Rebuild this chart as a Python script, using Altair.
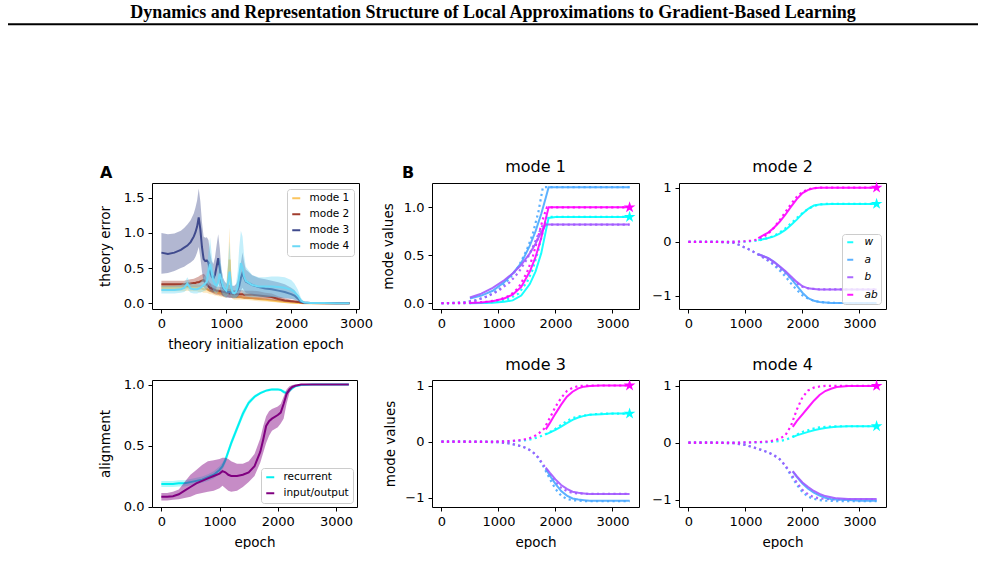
import altair as alt
import pandas as pd

HEADER = "Dynamics and Representation Structure of Local Approximations to Gradient-Based Learning"

# ---------------- Panel A (top): theory error ----------------
ERR_EPOCH = [0, 100, 200, 300, 350, 400, 450, 500, 525, 550,
             575, 600, 625, 650, 675, 700, 725, 750, 775, 800,
             825, 850, 875, 900, 925, 950, 975, 1000, 1025, 1050,
             1075, 1100, 1125, 1150, 1175, 1200, 1225, 1250, 1275, 1300,
             1400, 1500, 1600, 1700, 1800, 1900, 2000, 2050, 2100, 2150,
             2200, 2300, 2500, 2700, 2900]
MODE_NAMES = ["mode 1", "mode 2", "mode 3", "mode 4"]
MODE_COLORS = ["#fbc55e", "#a13d2d", "#3f4a8d", "#6bd8f6"]

ERR1_MEAN = [0.22, 0.22, 0.22, 0.22, 0.22, 0.23, 0.22, 0.22, 0.22, 0.22,
             0.21, 0.21, 0.21, 0.20, 0.20, 0.20, 0.19, 0.18, 0.18, 0.17,
             0.16, 0.16, 0.15, 0.15, 0.14, 0.14, 0.13, 0.13, 0.30, 0.62,
             0.18, 0.10, 0.09, 0.09, 0.09, 0.09, 0.09, 0.08, 0.08, 0.08,
             0.07, 0.06, 0.05, 0.04, 0.03, 0.02, 0.012, 0.008, 0.005, 0.003,
             0.002, 0.002, 0.002, 0.002, 0.002]
ERR1_LO = [0.17, 0.17, 0.17, 0.17, 0.17, 0.18, 0.17, 0.17, 0.17, 0.17,
           0.16, 0.16, 0.16, 0.15, 0.15, 0.15, 0.14, 0.13, 0.13, 0.12,
           0.11, 0.11, 0.10, 0.10, 0.09, 0.09, 0.08, 0.08, 0.12, 0.18,
           0.09, 0.06, 0.05, 0.05, 0.05, 0.05, 0.05, 0.05, 0.05, 0.05,
           0.04, 0.03, 0.025, 0.02, 0.01, 0.005, 0.0, 0.0, 0.0, 0.0,
           0.0, 0.0, 0.0, 0.0, 0.0]
ERR1_HI = [0.27, 0.27, 0.27, 0.27, 0.27, 0.29, 0.27, 0.27, 0.27, 0.27,
           0.26, 0.26, 0.26, 0.25, 0.25, 0.25, 0.24, 0.23, 0.23, 0.22,
           0.21, 0.21, 0.20, 0.20, 0.19, 0.19, 0.18, 0.19, 0.55, 1.08,
           0.35, 0.14, 0.13, 0.13, 0.13, 0.13, 0.13, 0.12, 0.12, 0.12,
           0.11, 0.09, 0.08, 0.06, 0.05, 0.035, 0.025, 0.016, 0.01, 0.006,
           0.004, 0.004, 0.004, 0.004, 0.004]

ERR2_MEAN = [0.27, 0.27, 0.27, 0.27, 0.27, 0.28, 0.28, 0.29, 0.29, 0.30,
             0.30, 0.31, 0.32, 0.33, 0.30, 0.27, 0.24, 0.22, 0.21, 0.20,
             0.19, 0.18, 0.18, 0.17, 0.17, 0.16, 0.16, 0.15, 0.15, 0.14,
             0.14, 0.13, 0.13, 0.13, 0.13, 0.13, 0.13, 0.13, 0.12, 0.12,
             0.12, 0.11, 0.10, 0.09, 0.06, 0.04, 0.03, 0.025, 0.02, 0.01,
             0.005, 0.003, 0.002, 0.002, 0.002]
ERR2_LO = [0.23, 0.23, 0.23, 0.23, 0.23, 0.23, 0.23, 0.23, 0.23, 0.23,
           0.23, 0.23, 0.23, 0.23, 0.21, 0.19, 0.17, 0.16, 0.15, 0.14,
           0.13, 0.12, 0.12, 0.11, 0.11, 0.10, 0.10, 0.09, 0.09, 0.08,
           0.08, 0.07, 0.07, 0.07, 0.07, 0.07, 0.07, 0.07, 0.06, 0.06,
           0.06, 0.05, 0.05, 0.04, 0.03, 0.02, 0.01, 0.01, 0.005, 0.0,
           0.0, 0.0, 0.0, 0.0, 0.0]
ERR2_HI = [0.32, 0.32, 0.32, 0.32, 0.32, 0.33, 0.34, 0.35, 0.36, 0.37,
           0.38, 0.40, 0.41, 0.42, 0.40, 0.36, 0.32, 0.29, 0.27, 0.26,
           0.25, 0.24, 0.24, 0.23, 0.23, 0.22, 0.22, 0.21, 0.21, 0.20,
           0.20, 0.19, 0.19, 0.19, 0.19, 0.19, 0.19, 0.19, 0.18, 0.18,
           0.18, 0.17, 0.15, 0.14, 0.10, 0.07, 0.05, 0.04, 0.035, 0.02,
           0.01, 0.006, 0.004, 0.004, 0.004]

ERR3_MEAN = [0.72, 0.70, 0.72, 0.76, 0.79, 0.82, 0.87, 0.95, 1.01, 1.09,
             1.22, 1.05, 0.80, 0.63, 0.60, 0.61, 0.58, 0.45, 0.38, 0.35,
             0.40, 0.52, 0.64, 0.50, 0.30, 0.22, 0.19, 0.17, 0.16, 0.16,
             0.15, 0.15, 0.15, 0.16, 0.19, 0.25, 0.36, 0.43, 0.36, 0.31,
             0.26, 0.23, 0.21, 0.20, 0.18, 0.16, 0.13, 0.11, 0.07, 0.02,
             0.01, 0.005, 0.003, 0.002, 0.002]
ERR3_LO = [0.42, 0.43, 0.46, 0.50, 0.52, 0.55, 0.58, 0.62, 0.66, 0.72,
           0.80, 0.65, 0.45, 0.30, 0.25, 0.25, 0.22, 0.18, 0.16, 0.15,
           0.17, 0.22, 0.30, 0.22, 0.13, 0.10, 0.09, 0.08, 0.08, 0.08,
           0.08, 0.08, 0.08, 0.08, 0.09, 0.12, 0.18, 0.22, 0.18, 0.15,
           0.12, 0.10, 0.09, 0.09, 0.08, 0.07, 0.06, 0.05, 0.03, 0.01,
           0.0, 0.0, 0.0, 0.0, 0.0]
ERR3_HI = [1.00, 0.98, 0.99, 1.03, 1.07, 1.12, 1.18, 1.28, 1.36, 1.46,
           1.63, 1.45, 1.15, 0.95, 0.93, 0.94, 0.90, 0.72, 0.60, 0.56,
           0.65, 0.82, 0.98, 0.78, 0.48, 0.36, 0.31, 0.28, 0.27, 0.26,
           0.25, 0.25, 0.25, 0.27, 0.32, 0.42, 0.58, 0.72, 0.58, 0.48,
           0.40, 0.36, 0.34, 0.32, 0.30, 0.27, 0.22, 0.19, 0.12, 0.04,
           0.02, 0.01, 0.006, 0.004, 0.004]

ERR4_MEAN = [0.19, 0.19, 0.19, 0.20, 0.22, 0.28, 0.21, 0.20, 0.20, 0.20,
             0.21, 0.22, 0.24, 0.26, 0.28, 0.31, 0.45, 0.56, 0.44, 0.32,
             0.27, 0.25, 0.30, 0.42, 0.33, 0.24, 0.20, 0.18, 0.28, 0.45,
             0.22, 0.15, 0.14, 0.16, 0.23, 0.40, 0.57, 0.50, 0.38, 0.32,
             0.26, 0.24, 0.24, 0.24, 0.23, 0.22, 0.19, 0.16, 0.11, 0.04,
             0.01, 0.005, 0.003, 0.002, 0.002]
ERR4_LO = [0.14, 0.14, 0.14, 0.15, 0.16, 0.20, 0.15, 0.14, 0.14, 0.14,
           0.15, 0.15, 0.16, 0.17, 0.18, 0.20, 0.26, 0.30, 0.24, 0.18,
           0.15, 0.14, 0.16, 0.22, 0.17, 0.12, 0.10, 0.09, 0.12, 0.15,
           0.10, 0.08, 0.07, 0.08, 0.10, 0.14, 0.18, 0.15, 0.12, 0.10,
           0.09, 0.09, 0.09, 0.09, 0.09, 0.08, 0.07, 0.06, 0.04, 0.01,
           0.0, 0.0, 0.0, 0.0, 0.0]
ERR4_HI = [0.25, 0.25, 0.25, 0.26, 0.29, 0.37, 0.28, 0.27, 0.27, 0.27,
           0.28, 0.30, 0.33, 0.36, 0.40, 0.45, 0.72, 0.93, 0.70, 0.48,
           0.40, 0.38, 0.48, 0.66, 0.50, 0.36, 0.31, 0.28, 0.55, 0.88,
           0.40, 0.25, 0.23, 0.28, 0.45, 0.80, 1.03, 0.95, 0.68, 0.52,
           0.40, 0.37, 0.37, 0.38, 0.38, 0.37, 0.33, 0.28, 0.20, 0.08,
           0.02, 0.01, 0.006, 0.004, 0.004]

# ---------------- Panel A (bottom): alignment ----------------
ALIGN_EPOCH = [0, 100, 200, 300, 400, 500, 600, 700, 800, 900,
               1000, 1050, 1100, 1150, 1200, 1300, 1400, 1500, 1600, 1700,
               1750, 1800, 1850, 1900, 2000, 2050, 2100, 2150, 2200, 2250,
               2300, 2400, 2600, 2800, 3000, 3220]
ALIGN_NAMES = ["recurrent", "input/output"]
ALIGN_COLORS = ["#00f0f0", "#800080"]
REC_MEAN = [0.185, 0.185, 0.185, 0.19, 0.19, 0.2, 0.21, 0.22, 0.24, 0.26,
            0.3, 0.33, 0.38, 0.45, 0.52, 0.64, 0.76, 0.85, 0.9, 0.93,
            0.94, 0.95, 0.955, 0.96, 0.96, 0.955, 0.94, 0.93, 0.95, 0.97,
            0.985, 0.995, 1.0, 1.0, 1.0, 1.0]
REC_LO = [0.16, 0.16, 0.16, 0.165, 0.165, 0.175, 0.185, 0.195, 0.21, 0.23,
          0.27, 0.3, 0.35, 0.42, 0.49, 0.61, 0.73, 0.83, 0.885, 0.92,
          0.93, 0.94, 0.945, 0.95, 0.95, 0.945, 0.925, 0.915, 0.94, 0.96,
          0.98, 0.99, 0.998, 0.998, 0.998, 0.998]
REC_HI = [0.21, 0.21, 0.21, 0.215, 0.215, 0.225, 0.235, 0.245, 0.265, 0.29,
          0.33, 0.36, 0.41, 0.48, 0.55, 0.67, 0.79, 0.87, 0.915, 0.94,
          0.95, 0.96, 0.965, 0.97, 0.97, 0.965, 0.955, 0.945, 0.96, 0.98,
          0.99, 1.0, 1.0, 1.0, 1.0, 1.0]
IO_MEAN = [0.08, 0.08, 0.085, 0.1, 0.13, 0.16, 0.19, 0.21, 0.23, 0.25,
           0.27, 0.29, 0.28, 0.26, 0.25, 0.25, 0.26, 0.28, 0.33, 0.45,
           0.55, 0.66, 0.7, 0.72, 0.75, 0.77, 0.84, 0.92, 0.96, 0.98,
           0.99, 1.0, 1.0, 1.0, 1.0, 1.0]
IO_LO = [0.05, 0.05, 0.055, 0.06, 0.07, 0.08, 0.1, 0.11, 0.12, 0.13,
         0.15, 0.17, 0.15, 0.13, 0.12, 0.13, 0.16, 0.2, 0.25, 0.36,
         0.44, 0.52, 0.58, 0.62, 0.65, 0.68, 0.72, 0.84, 0.93, 0.97,
         0.985, 0.995, 1.0, 1.0, 1.0, 1.0]
IO_HI = [0.11, 0.11, 0.12, 0.14, 0.2, 0.26, 0.3, 0.34, 0.37, 0.38,
         0.39, 0.4, 0.4, 0.39, 0.37, 0.35, 0.35, 0.37, 0.43, 0.56,
         0.66, 0.74, 0.78, 0.8, 0.82, 0.84, 0.9, 0.96, 0.985, 0.995,
         1.0, 1.0, 1.0, 1.0, 1.0, 1.0]

# ---------------- Panel B: mode values ----------------
VAR_NAMES = ["w", "a", "b", "ab"]
VAR_COLORS = ["#00ffff", "#4aa8ff", "#a259ff", "#ff00ff"]
STAR_EPOCH = 3300

M1_DOT_EPOCH = [0, 200, 400, 600, 800, 1000, 1200, 1350, 1500, 1600, 1700, 1780, 1850, 1900, 2000, 3300]
M1_DOT_W = [0.0, 0.0, 0.0, 0.003, 0.008, 0.02, 0.05, 0.1, 0.22, 0.35, 0.55, 0.75, 0.9, 0.9, 0.9, 0.9]
M1_DOT_A = [0.0, 0.003, 0.01, 0.03, 0.07, 0.14, 0.26, 0.38, 0.56, 0.72, 0.95, 1.21, 1.21, 1.21, 1.21, 1.21]
M1_DOT_B = [0.0, 0.003, 0.01, 0.03, 0.07, 0.13, 0.22, 0.32, 0.46, 0.58, 0.72, 0.82, 0.82, 0.82, 0.82, 0.82]
M1_DOT_AB = [0.0, 0.0, 0.002, 0.006, 0.015, 0.035, 0.08, 0.16, 0.32, 0.48, 0.7, 0.88, 1.0, 1.0, 1.0, 1.0]
M1_SOL_EPOCH = [500, 700, 900, 1100, 1250, 1400, 1550, 1650, 1750, 1830, 1880, 2000, 3300]
M1_SOL_W = [0.0, 0.002, 0.006, 0.015, 0.03, 0.08, 0.2, 0.33, 0.52, 0.75, 0.89, 0.9, 0.9]
M1_SOL_A = [0.05, 0.08, 0.13, 0.22, 0.31, 0.42, 0.6, 0.75, 0.93, 1.1, 1.21, 1.21, 1.21]
M1_SOL_B = [0.06, 0.1, 0.16, 0.24, 0.31, 0.4, 0.52, 0.62, 0.74, 0.82, 0.82, 0.82, 0.82]
M1_SOL_AB = [0.003, 0.008, 0.02, 0.05, 0.09, 0.17, 0.33, 0.48, 0.68, 0.88, 1.0, 1.0, 1.0]
M1_STAR = [0.9, 1.0]

M2_DOT_EPOCH = [0, 200, 400, 600, 800, 900, 1000, 1100, 1200, 1300, 1400, 1500, 1600, 1700, 1800,
                1900, 2000, 2100, 2200, 2300, 2400, 2600, 3300]
M2_DOT_W = [0, 0, 0, 0, 0.001, 0.003, 0.005, 0.01, 0.02, 0.04, 0.07, 0.11, 0.17, 0.25, 0.34,
            0.44, 0.53, 0.61, 0.66, 0.69, 0.7, 0.7, 0.7]
M2_DOT_A = [0, 0, 0, -0.005, -0.02, -0.06, -0.11, -0.16, -0.22, -0.28, -0.35, -0.43, -0.53, -0.64, -0.77,
            -0.89, -0.99, -1.05, -1.09, -1.11, -1.12, -1.13, -1.13]
M2_DOT_B = [0, 0, 0, -0.005, -0.02, -0.06, -0.11, -0.16, -0.22, -0.28, -0.34, -0.41, -0.49, -0.58, -0.68,
            -0.77, -0.83, -0.86, -0.87, -0.88, -0.88, -0.88, -0.88]
M2_DOT_AB = [0, 0, 0, 0, 0.002, 0.005, 0.01, 0.02, 0.04, 0.08, 0.15, 0.26, 0.4, 0.55, 0.7,
             0.83, 0.92, 0.97, 0.99, 1.0, 1.0, 1.0, 1.0]
M2_SOL_EPOCH = [1225, 1400, 1500, 1600, 1700, 1800, 1900, 2000, 2100, 2200, 2300, 2500, 3300]
M2_SOL_W = [0.03, 0.07, 0.1, 0.15, 0.22, 0.31, 0.41, 0.52, 0.61, 0.67, 0.69, 0.7, 0.7]
M2_SOL_A = [-0.23, -0.3, -0.37, -0.46, -0.56, -0.68, -0.81, -0.94, -1.04, -1.09, -1.11, -1.13, -1.13]
M2_SOL_B = [-0.23, -0.3, -0.37, -0.45, -0.54, -0.64, -0.74, -0.82, -0.86, -0.87, -0.88, -0.88, -0.88]
M2_SOL_AB = [0.07, 0.17, 0.26, 0.37, 0.5, 0.65, 0.79, 0.9, 0.96, 0.99, 1.0, 1.0, 1.0]
M2_STAR = [0.7, 1.0]

M3_DOT_EPOCH = [0, 400, 800, 1000, 1200, 1400, 1500, 1600, 1700, 1800, 1900, 2000, 2100, 2200, 2300,
                2400, 2600, 2800, 3300]
M3_DOT_W = [0, 0, 0, 0.003, 0.007, 0.02, 0.03, 0.05, 0.08, 0.12, 0.17, 0.23, 0.3, 0.37, 0.42,
            0.45, 0.48, 0.5, 0.5]
M3_DOT_A = [0, 0, -0.005, -0.01, -0.03, -0.08, -0.12, -0.18, -0.29, -0.46, -0.66, -0.84, -0.96, -1.02, -1.04,
            -1.05, -1.06, -1.06, -1.06]
M3_DOT_B = [0, 0, -0.005, -0.01, -0.03, -0.08, -0.12, -0.18, -0.28, -0.43, -0.58, -0.72, -0.82, -0.88, -0.91,
            -0.92, -0.93, -0.93, -0.93]
M3_DOT_AB = [0, 0, 0, 0.005, 0.01, 0.03, 0.05, 0.08, 0.14, 0.23, 0.42, 0.62, 0.78, 0.9, 0.96,
             0.99, 1.0, 1.0, 1.0]
M3_SOL_EPOCH = [1830, 1900, 2000, 2100, 2200, 2300, 2400, 2500, 2600, 2800, 3000, 3300]
M3_SOL_W = [0.13, 0.16, 0.21, 0.27, 0.33, 0.39, 0.43, 0.46, 0.48, 0.49, 0.5, 0.5]
M3_SOL_A = [-0.48, -0.6, -0.75, -0.88, -0.96, -1.01, -1.03, -1.04, -1.05, -1.05, -1.05, -1.05]
M3_SOL_B = [-0.46, -0.55, -0.67, -0.77, -0.84, -0.89, -0.91, -0.92, -0.93, -0.93, -0.93, -0.93]
M3_SOL_AB = [0.22, 0.33, 0.5, 0.66, 0.8, 0.89, 0.95, 0.98, 0.99, 1.0, 1.0, 1.0]
M3_STAR = [0.5, 1.0]

M4_DOT_EPOCH = [0, 400, 800, 1000, 1200, 1400, 1500, 1600, 1700, 1800, 1900, 2000, 2100, 2200, 2300,
                2400, 2600, 2800, 3300]
M4_DOT_W = [0, 0, 0, 0.002, 0.005, 0.01, 0.02, 0.03, 0.05, 0.09, 0.14, 0.19, 0.22, 0.25, 0.27,
            0.28, 0.29, 0.29, 0.29]
M4_DOT_A = [0, 0, -0.01, -0.04, -0.1, -0.17, -0.22, -0.29, -0.41, -0.58, -0.74, -0.87, -0.95, -0.99, -1.01,
            -1.02, -1.03, -1.03, -1.03]
M4_DOT_B = [0, 0, -0.01, -0.04, -0.1, -0.17, -0.22, -0.29, -0.4, -0.55, -0.7, -0.83, -0.91, -0.96, -0.98,
            -0.99, -1.0, -1.0, -1.0]
M4_DOT_AB = [0, 0, 0, 0.005, 0.01, 0.02, 0.04, 0.07, 0.13, 0.3, 0.58, 0.8, 0.92, 0.97, 0.99,
             1.0, 1.0, 1.0, 1.0]
M4_SOL_EPOCH = [1830, 1900, 2000, 2100, 2200, 2300, 2400, 2500, 2600, 2800, 3000, 3300]
M4_SOL_W = [0.1, 0.13, 0.16, 0.19, 0.22, 0.24, 0.26, 0.27, 0.28, 0.29, 0.29, 0.29]
M4_SOL_A = [-0.51, -0.6, -0.72, -0.81, -0.88, -0.93, -0.97, -0.99, -1.0, -1.01, -1.02, -1.02]
M4_SOL_B = [-0.5, -0.59, -0.7, -0.78, -0.85, -0.9, -0.94, -0.96, -0.98, -0.99, -0.99, -0.99]
M4_SOL_AB = [0.28, 0.38, 0.5, 0.62, 0.74, 0.84, 0.91, 0.95, 0.98, 1.0, 1.0, 1.0]
M4_STAR = [0.29, 1.0]

X_TICKS = [0, 1000, 2000, 3000]
STAR_PATH = ("M0,-1L0.2245,-0.309L0.951,-0.309L0.363,0.118L0.588,0.809L0,0.382"
             "L-0.588,0.809L-0.363,0.118L-0.951,-0.309L-0.2245,-0.309Z")
FONT = "DejaVu Sans"
ONE = pd.DataFrame({"k": [0]})
NO_FRAME = alt.ViewBackground(strokeOpacity=0)


def txt(text, x, y, **kw):
    return alt.Chart(ONE).mark_text(text=text, **kw).encode(x=alt.value(x), y=alt.value(y))


def band_df(epochs, names, means, los, his):
    rows = []
    for name, m, lo, hi in zip(names, means, los, his):
        for e, a, b, c in zip(epochs, m, lo, hi):
            rows.append({"epoch": e, "series": name, "mean": a, "lo": b, "hi": c})
    return pd.DataFrame(rows)


def traj_df(epochs, series):
    rows = []
    for name, vals in zip(VAR_NAMES, series):
        for e, v in zip(epochs, vals):
            rows.append({"epoch": e, "var": name, "value": v})
    return pd.DataFrame(rows)


def legend(x, y, pad, rowpad, symsize, offset, italic=False):
    kw = dict(title=None, orient="none", legendX=x, legendY=y,
              fillColor="rgba(255,255,255,0.8)", strokeColor="#cccccc", cornerRadius=3,
              padding=pad, rowPadding=rowpad, labelFont=FONT, labelFontSize=10.5,
              labelColor="black", labelOffset=offset, symbolType="stroke",
              symbolSize=symsize, symbolStrokeWidth=2, symbolDash=[10, 0])
    if italic:
        kw["labelFontStyle"] = "italic"
    return alt.Legend(**kw)


def band_panel(df, names, colors, xdom, ydom, yvals, xtitle, ytitle, leg, band_op, w, h, extra):
    x = alt.X("epoch:Q", scale=alt.Scale(domain=xdom, nice=False, zero=False),
              axis=alt.Axis(values=X_TICKS, format="d", title=xtitle, titlePadding=7))
    yax = alt.Axis(values=yvals, format=".1f", title=ytitle, titlePadding=10.5)
    ysc = alt.Scale(domain=ydom, nice=False, zero=False)
    cscale = alt.Scale(domain=names, range=colors)
    layers = []
    for name, col, op in zip(names, colors, band_op):
        base = alt.Chart(df).transform_filter(alt.datum.series == name)
        layers.append(base.mark_area(color=col, opacity=op).encode(
            x=x, y=alt.Y("lo:Q", scale=ysc, axis=yax), y2="hi:Q"))
        layers.append(base.mark_line(strokeWidth=2).encode(
            x=x, y=alt.Y("mean:Q", scale=ysc, axis=yax),
            color=alt.Color("series:N", scale=cscale, legend=leg)))
    layers.extend(extra)
    return alt.layer(*layers).properties(width=w, height=h)


def mode_panel(name, dot_ep, dots, sol_ep, sols, star_vals, ydom, yvals, yfmt, ytitle, xtitle,
               h, title_y, leg=None, extra=()):
    dot_df = traj_df(dot_ep, dots)
    sol_df = traj_df(sol_ep, sols)
    star_df = pd.DataFrame({"epoch": [STAR_EPOCH, STAR_EPOCH], "var": ["w", "ab"], "value": star_vals})
    x = alt.X("epoch:Q", scale=alt.Scale(domain=[-165, 3465], nice=False, zero=False),
              axis=alt.Axis(values=X_TICKS, format="d", title=xtitle, titlePadding=7))
    y = alt.Y("value:Q", scale=alt.Scale(domain=ydom, nice=False, zero=False),
              axis=alt.Axis(values=yvals, format=yfmt, title=ytitle, titlePadding=7.5))
    cscale = alt.Scale(domain=VAR_NAMES, range=VAR_COLORS)
    if leg is None:
        c_other = alt.Color("var:N", scale=cscale, legend=None)
        c_sol = c_other
    else:
        c_other = alt.Color("var:N", scale=cscale)
        c_sol = alt.Color("var:N", scale=cscale, legend=leg)
    dotted = alt.Chart(dot_df).mark_line(strokeWidth=2.2, strokeDash=[2.2, 3.3], opacity=0.9).encode(
        x=x, y=y, color=c_other)
    solid = alt.Chart(sol_df).mark_line(strokeWidth=2, opacity=0.9).encode(x=x, y=y, color=c_sol)
    stars = alt.Chart(star_df).mark_point(shape=STAR_PATH, filled=True, size=150, opacity=1).encode(
        x=x, y=y, color=c_other)
    title = txt(name, 103.5, title_y, font=FONT, fontSize=16, align="center", baseline="alphabetic",
                color="black")
    return alt.layer(dotted, solid, stars, title, *extra).properties(width=207, height=h)


def spacer(w):
    return alt.Chart(ONE).mark_point(opacity=0, size=1, filled=True).encode(
        x=alt.value(0), y=alt.value(0)).properties(width=w, height=10, view=NO_FRAME)


# ---- header cell (also anchors the page origin) ----
header_cell = alt.layer(
    alt.Chart(ONE).mark_point(shape="square", size=4, filled=True, opacity=0).encode(
        x=alt.value(-7), y=alt.value(-182)),
    txt(HEADER, 485, -165, font="Liberation Serif", fontSize=18, fontWeight="bold",
        align="center", baseline="alphabetic", color="black"),
    alt.Chart(ONE).mark_rule(color="black", strokeWidth=2).encode(
        x=alt.value(0), x2=alt.value(970), y=alt.value(-158.7)),
).properties(width=144, height=10, view=NO_FRAME)

err_df = band_df(ERR_EPOCH, MODE_NAMES,
                 [ERR1_MEAN, ERR2_MEAN, ERR3_MEAN, ERR4_MEAN],
                 [ERR1_LO, ERR2_LO, ERR3_LO, ERR4_LO],
                 [ERR1_HI, ERR2_HI, ERR3_HI, ERR4_HI])
a_top = band_panel(err_df, MODE_NAMES, MODE_COLORS, [-145, 3045], [-0.081, 1.709], [0, 0.5, 1.0, 1.5],
                   "theory initialization epoch", "theory error",
                   legend(135, 6, 4, 5, 64, 8), [0.4, 0.4, 0.4, 0.4], 207, 126,
                   [txt("A", -52, -4.7, font=FONT, fontSize=16, fontWeight="bold", align="left",
                        baseline="alphabetic", color="black")])

align_df = band_df(ALIGN_EPOCH, ALIGN_NAMES, [REC_MEAN, IO_MEAN], [REC_LO, IO_LO], [REC_HI, IO_HI])
a_bot = band_panel(align_df, ALIGN_NAMES, ALIGN_COLORS, [-160, 3360], [-0.004, 1.037], [0, 0.5, 1.0],
                   "epoch", "alignment", legend(109, 88, 4, 5, 64, 8), [0.3, 0.45], 205, 127, [])

mode1 = mode_panel("mode 1", M1_DOT_EPOCH, [M1_DOT_W, M1_DOT_A, M1_DOT_B, M1_DOT_AB],
                   M1_SOL_EPOCH, [M1_SOL_W, M1_SOL_A, M1_SOL_B, M1_SOL_AB], M1_STAR,
                   [-0.06, 1.254], [0, 0.5, 1.0], ".1f", "mode values", None, 126, -11,
                   extra=[txt("B", -30, -4.7, font=FONT, fontSize=16, fontWeight="bold", align="left",
                              baseline="alphabetic", color="black")])
mode2 = mode_panel("mode 2", M2_DOT_EPOCH, [M2_DOT_W, M2_DOT_A, M2_DOT_B, M2_DOT_AB],
                   M2_SOL_EPOCH, [M2_SOL_W, M2_SOL_A, M2_SOL_B, M2_SOL_AB], M2_STAR,
                   [-1.241, 1.086], [-1, 0, 1], "d", None, None, 126, -11,
                   leg=legend(163, 51, 3, 6.5, 36, 9, italic=True))
mode3 = mode_panel("mode 3", M3_DOT_EPOCH, [M3_DOT_W, M3_DOT_A, M3_DOT_B, M3_DOT_AB],
                   M3_SOL_EPOCH, [M3_SOL_W, M3_SOL_A, M3_SOL_B, M3_SOL_AB], M3_STAR,
                   [-1.162, 1.098], [-1, 0, 1], "d", "mode values", "epoch", 127, -10)
mode4 = mode_panel("mode 4", M4_DOT_EPOCH, [M4_DOT_W, M4_DOT_A, M4_DOT_B, M4_DOT_AB],
                   M4_SOL_EPOCH, [M4_SOL_W, M4_SOL_A, M4_SOL_B, M4_SOL_AB], M4_STAR,
                   [-1.132, 1.104], [-1, 0, 1], "d", None, "epoch", 127, -10)

chart = alt.concat(
    header_cell, a_top, spacer(73), mode1, spacer(40), mode2,
    spacer(144), a_bot, spacer(73), mode3, spacer(40), mode4,
    columns=6, spacing={"row": 71, "column": 0}, bounds="flush", align="each",
).resolve_scale(color="independent").resolve_legend(color="independent").properties(
    padding=0
).configure(font=FONT).configure_view(
    stroke="black", strokeWidth=1
).configure_axis(
    labelFont=FONT, labelFontSize=13, labelColor="black", labelPadding=4, labelFlush=False,
    labelOverlap=False, titleFont=FONT, titleFontSize=13.5, titleFontWeight="normal",
    titleColor="black", tickColor="black", tickSize=4, tickWidth=1, domain=False, grid=False
)

chart.save("out.html", embed_options={"renderer": "svg", "actions": False})
